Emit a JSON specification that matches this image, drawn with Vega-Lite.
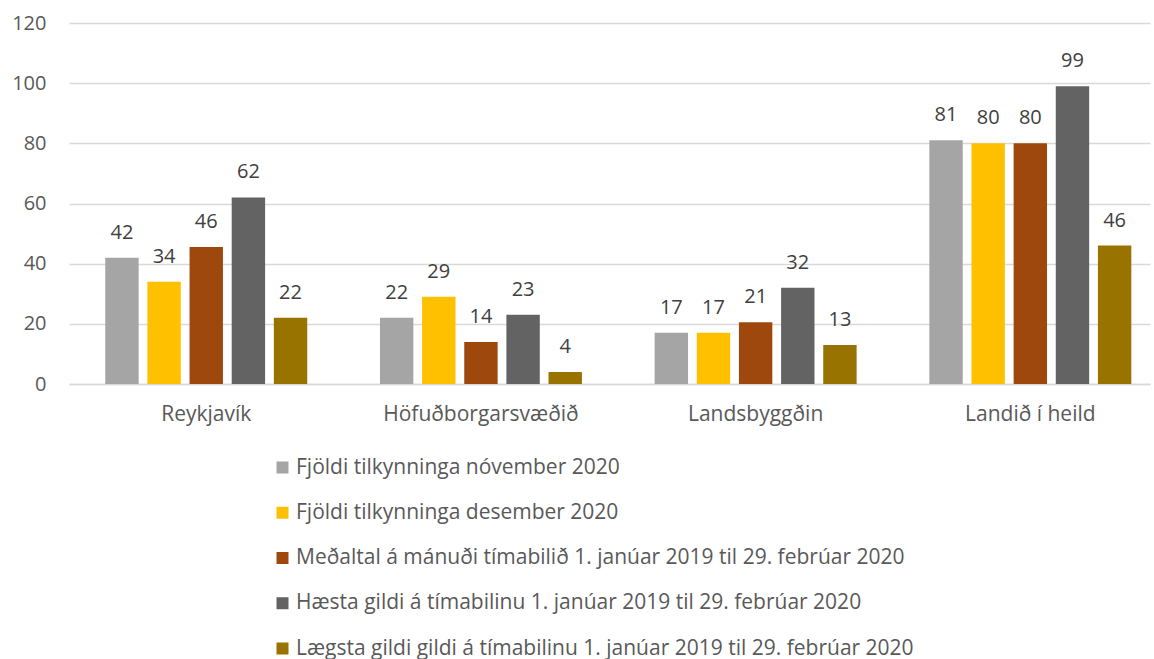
{
  "$schema": "https://vega.github.io/schema/vega-lite/v6.json",
  "width": 1081,
  "height": 361,
  "autosize": {"type": "none"},
  "padding": {"left": 69, "top": 23, "right": 4, "bottom": 275},
  "background": "white",
  "config": {"view": {"stroke": null}, "font": "Open Sans"},
  "data": {
    "values": [
      {"region": "Reykjavík", "series": "Fjöldi tilkynninga nóvember 2020", "value": 42},
      {"region": "Reykjavík", "series": "Fjöldi tilkynninga desember 2020", "value": 34},
      {"region": "Reykjavík", "series": "Meðaltal á mánuði tímabilið 1. janúar 2019 til 29. febrúar 2020", "value": 45.5},
      {"region": "Reykjavík", "series": "Hæsta gildi á tímabilinu 1. janúar 2019 til 29. febrúar 2020", "value": 62},
      {"region": "Reykjavík", "series": "Lægsta gildi gildi á tímabilinu 1. janúar 2019 til 29. febrúar 2020", "value": 22},
      {"region": "Höfuðborgarsvæðið", "series": "Fjöldi tilkynninga nóvember 2020", "value": 22},
      {"region": "Höfuðborgarsvæðið", "series": "Fjöldi tilkynninga desember 2020", "value": 29},
      {"region": "Höfuðborgarsvæðið", "series": "Meðaltal á mánuði tímabilið 1. janúar 2019 til 29. febrúar 2020", "value": 14},
      {"region": "Höfuðborgarsvæðið", "series": "Hæsta gildi á tímabilinu 1. janúar 2019 til 29. febrúar 2020", "value": 23},
      {"region": "Höfuðborgarsvæðið", "series": "Lægsta gildi gildi á tímabilinu 1. janúar 2019 til 29. febrúar 2020", "value": 4},
      {"region": "Landsbyggðin", "series": "Fjöldi tilkynninga nóvember 2020", "value": 17},
      {"region": "Landsbyggðin", "series": "Fjöldi tilkynninga desember 2020", "value": 17},
      {"region": "Landsbyggðin", "series": "Meðaltal á mánuði tímabilið 1. janúar 2019 til 29. febrúar 2020", "value": 20.5},
      {"region": "Landsbyggðin", "series": "Hæsta gildi á tímabilinu 1. janúar 2019 til 29. febrúar 2020", "value": 32},
      {"region": "Landsbyggðin", "series": "Lægsta gildi gildi á tímabilinu 1. janúar 2019 til 29. febrúar 2020", "value": 13},
      {"region": "Landið í heild", "series": "Fjöldi tilkynninga nóvember 2020", "value": 81},
      {"region": "Landið í heild", "series": "Fjöldi tilkynninga desember 2020", "value": 80},
      {"region": "Landið í heild", "series": "Meðaltal á mánuði tímabilið 1. janúar 2019 til 29. febrúar 2020", "value": 80},
      {"region": "Landið í heild", "series": "Hæsta gildi á tímabilinu 1. janúar 2019 til 29. febrúar 2020", "value": 99},
      {"region": "Landið í heild", "series": "Lægsta gildi gildi á tímabilinu 1. janúar 2019 til 29. febrúar 2020", "value": 46}
    ]
  },
  "encoding": {
    "x": {
      "field": "region",
      "type": "nominal",
      "sort": ["Reykjavík", "Höfuðborgarsvæðið", "Landsbyggðin", "Landið í heild"],
      "scale": {"paddingInner": 0.2647, "paddingOuter": 0.1, "align": 0.66},
      "axis": {
        "title": null,
        "labelAngle": 0,
        "labelFontSize": 21,
        "labelColor": "#595959",
        "labelPadding": 19,
        "labelLimit": 0,
        "ticks": false,
        "domain": true,
        "domainColor": "#D9D9D9",
        "domainWidth": 1.5
      }
    },
    "xOffset": {
      "field": "series",
      "type": "nominal",
      "sort": [
        "Fjöldi tilkynninga nóvember 2020",
        "Fjöldi tilkynninga desember 2020",
        "Meðaltal á mánuði tímabilið 1. janúar 2019 til 29. febrúar 2020",
        "Hæsta gildi á tímabilinu 1. janúar 2019 til 29. febrúar 2020",
        "Lægsta gildi gildi á tímabilinu 1. janúar 2019 til 29. febrúar 2020"
      ],
      "scale": {"paddingInner": 0.2076, "paddingOuter": 0}
    },
    "y": {
      "field": "value",
      "type": "quantitative",
      "scale": {"domain": [0, 120], "nice": false},
      "axis": {
        "title": null,
        "values": [0, 20, 40, 60, 80, 100, 120],
        "labelFontSize": 20,
        "labelColor": "#595959",
        "labelPadding": 23,
        "ticks": false,
        "domain": false,
        "grid": true,
        "gridColor": "#D9D9D9",
        "gridWidth": 1.5
      }
    }
  },
  "layer": [
    {
      "mark": {"type": "bar"},
      "encoding": {
        "color": {
          "field": "series",
          "type": "nominal",
          "scale": {
            "domain": [
              "Fjöldi tilkynninga nóvember 2020",
              "Fjöldi tilkynninga desember 2020",
              "Meðaltal á mánuði tímabilið 1. janúar 2019 til 29. febrúar 2020",
              "Hæsta gildi á tímabilinu 1. janúar 2019 til 29. febrúar 2020",
              "Lægsta gildi gildi á tímabilinu 1. janúar 2019 til 29. febrúar 2020"
            ],
            "range": ["#A5A5A5", "#FFC000", "#9E480E", "#636363", "#997300"]
          },
          "legend": {
            "orient": "none",
            "legendX": 203,
            "legendY": 434,
            "direction": "vertical",
            "title": null,
            "symbolType": "square",
            "symbolSize": 144,
            "symbolStrokeWidth": 0,
            "labelFontSize": 21,
            "labelColor": "#595959",
            "labelOffset": 3,
            "labelLimit": 0,
            "rowPadding": 23.25,
            "padding": 0
          }
        }
      }
    },
    {
      "mark": {"type": "text", "dy": -25, "fontSize": 20, "color": "#404040", "baseline": "middle"},
      "encoding": {
        "text": {"field": "value", "type": "quantitative", "format": ".0f"}
      }
    }
  ]
}
